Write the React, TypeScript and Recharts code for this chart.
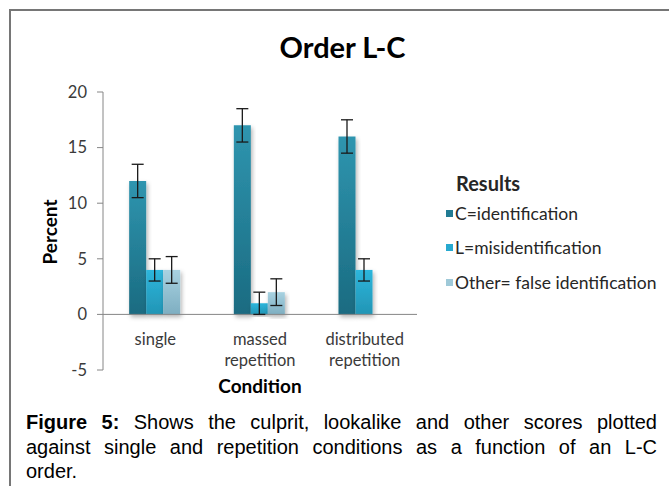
import {
  BarChart,
  Bar,
  XAxis,
  YAxis,
  ErrorBar,
  ReferenceLine,
  Legend,
} from "recharts";

const conditions = ["single", "massed repetition", "distributed repetition"];
const identification = [12, 17, 16];
const misidentification = [4, 1, 4];
const falseIdentification = [4, 2, 0];
const identificationErr = [1.5, 1.5, 1.5];
const misidentificationErr = [1, 1, 1];
const falseIdentificationErr = [1.2, 1.2, 1.2];
const yTicks = [-5, 0, 5, 10, 15, 20];

const seriesNames = ["C=identification", "L=misidentification", "Other= false identification"];
const swatches = ["#217b93", "#27a9cf", "#9fc9d8"];

const captionLines = [
  "Shows the culprit, lookalike and other scores plotted",
  "against single and repetition conditions as a function of an L-C",
  "order.",
];

const data = conditions.map((c, i) => ({
  condition: c,
  c: identification[i],
  cErr: identificationErr[i],
  l: misidentification[i],
  lErr: misidentificationErr[i],
  o: falseIdentification[i],
  oErr: falseIdentificationErr[i],
}));

const chartFont = "Lato, 'Noto Sans', sans-serif";

function ConditionTick({ x, y, payload }: any) {
  const words = String(payload.value).split(" ");
  return (
    <text x={x} y={y} textAnchor="middle" fill="#3a3a3a" fontSize={16.5} fontFamily={chartFont}>
      {words.map((w, i) => (
        <tspan key={w} x={x} y={y - 25 + i * 21}>
          {w}
        </tspan>
      ))}
    </text>
  );
}

function ResultsLegend() {
  return (
    <div style={{ fontFamily: chartFont, color: "#262626" }}>
      <div style={{ fontWeight: 700, fontSize: 20, lineHeight: "26px", marginLeft: 10 }}>Results</div>
      {seriesNames.map((n, i) => (
        <div key={n} style={{ display: "flex", alignItems: "center", height: 34.5, fontSize: 17.5 }}>
          <span style={{ width: 7, height: 7, background: swatches[i], marginRight: 2, display: "inline-block" }} />
          {n}
        </div>
      ))}
    </div>
  );
}

export default function App() {
  return (
    <div
      style={{
        position: "absolute",
        left: 0,
        top: 0,
        width: 669,
        height: 486,
        background: "#fff",
        overflow: "hidden",
      }}
    >
      <div
        style={{
          position: "absolute",
          left: 9,
          top: 9,
          width: 700,
          height: 500,
          borderLeft: "2px solid #767676",
          borderTop: "2px solid #767676",
        }}
      />
      <div style={{ position: "absolute", left: 0, top: 0 }}>
        <BarChart
          width={669}
          height={400}
          data={data}
          margin={{ top: 92, right: 252, bottom: 0, left: 0 }}
          barCategoryGap="25%"
          barGap={0}
        >
          <defs>
            <linearGradient id="gradC" x1="0" y1="0" x2="0" y2="1">
              <stop offset="0%" stopColor="#2f95af" />
              <stop offset="100%" stopColor="#1a6b81" />
            </linearGradient>
            <linearGradient id="gradL" x1="0" y1="0" x2="0" y2="1">
              <stop offset="0%" stopColor="#2db6dc" />
              <stop offset="100%" stopColor="#2295b5" />
            </linearGradient>
            <linearGradient id="gradO" x1="0" y1="0" x2="0" y2="1">
              <stop offset="0%" stopColor="#a8d2e1" />
              <stop offset="100%" stopColor="#7eaec1" />
            </linearGradient>
            <filter id="barShadow" x="-30%" y="-10%" width="160%" height="130%">
              <feDropShadow dx="1.5" dy="2.5" stdDeviation="2" floodColor="#000" floodOpacity="0.3" />
            </filter>
          </defs>
          <XAxis
            dataKey="condition"
            height={30}
            axisLine={false}
            tickLine={false}
            tickSize={0}
            tickMargin={0}
            interval={0}
            tick={<ConditionTick />}
          />
          <YAxis
            width={103}
            domain={[-5, 20]}
            ticks={yTicks}
            interval={0}
            stroke="#868686"
            tickSize={6}
            tickMargin={10}
            tick={{ fill: "#3a3a3a", fontSize: 16.5, fontFamily: chartFont }}
          />
          <ReferenceLine y={0} stroke="#868686" strokeWidth={1} />
          <Legend
            layout="vertical"
            align="center"
            verticalAlign="middle"
            wrapperStyle={{ left: 446, top: 170, width: 223 }}
            content={<ResultsLegend />}
          />
          <Bar dataKey="c" name={seriesNames[0]} fill="url(#gradC)" filter="url(#barShadow)" isAnimationActive={false}>
            <ErrorBar dataKey="cErr" width={6} stroke="#1a1a1a" strokeWidth={1.3} direction="y" />
          </Bar>
          <Bar dataKey="l" name={seriesNames[1]} fill="url(#gradL)" filter="url(#barShadow)" isAnimationActive={false}>
            <ErrorBar dataKey="lErr" width={6} stroke="#1a1a1a" strokeWidth={1.3} direction="y" />
          </Bar>
          <Bar dataKey="o" name={seriesNames[2]} fill="url(#gradO)" filter="url(#barShadow)" isAnimationActive={false}>
            <ErrorBar dataKey="oErr" width={6} stroke="#1a1a1a" strokeWidth={1.3} direction="y" />
          </Bar>
        </BarChart>
      </div>
      <div
        style={{
          position: "absolute",
          left: 0,
          top: 33,
          width: 685,
          textAlign: "center",
          fontFamily: chartFont,
          fontWeight: 700,
          fontSize: 29,
          lineHeight: "28px",
          color: "#000",
        }}
      >
        Order L-C
      </div>
      <div
        style={{
          position: "absolute",
          left: 49,
          top: 232,
          transform: "translate(-50%, -50%) rotate(-90deg)",
          fontFamily: chartFont,
          fontWeight: 700,
          fontSize: 19,
          lineHeight: "23px",
          whiteSpace: "nowrap",
          color: "#000",
        }}
      >
        Percent
      </div>
      <div
        style={{
          position: "absolute",
          left: 160,
          top: 376,
          width: 200,
          textAlign: "center",
          fontFamily: chartFont,
          fontWeight: 700,
          fontSize: 19,
          lineHeight: "19px",
          color: "#000",
        }}
      >
        Condition
      </div>
      <div
        style={{
          position: "absolute",
          left: 26,
          top: 410,
          width: 631,
          fontFamily: "'Liberation Sans', Arial, sans-serif",
          fontSize: 20,
          lineHeight: "24.5px",
          color: "#000",
        }}
      >
        {captionLines.map((line, i) => (
          <div
            key={i}
            style={{
              textAlign: "justify",
              textAlignLast: i < captionLines.length - 1 ? "justify" : "left",
              whiteSpace: "nowrap",
            }}
          >
            {i === 0 && <b>Figure 5: </b>}
            {line}
          </div>
        ))}
      </div>
    </div>
  );
}
